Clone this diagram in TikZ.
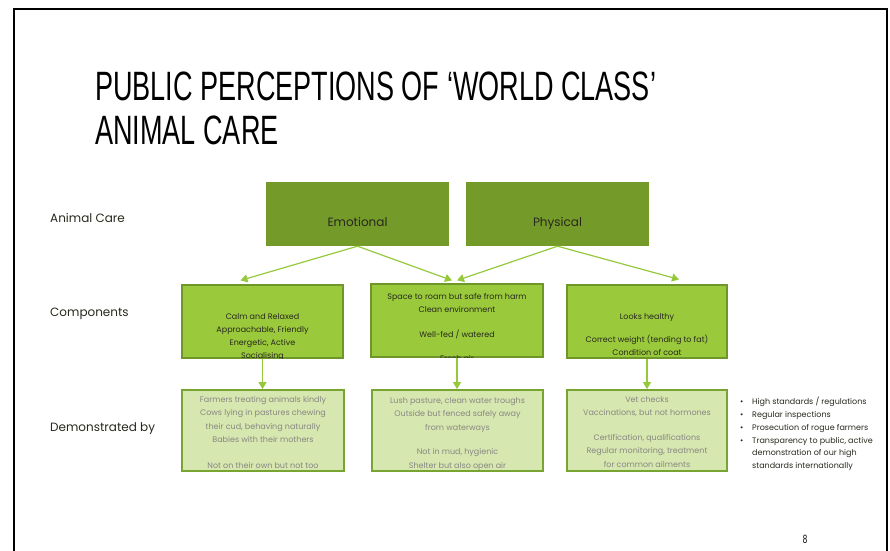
\documentclass[tikz,border=0pt]{standalone}
\usepackage{fontspec}
\setmainfont{Poppins}
\newfontfamily\narrowfont[FakeStretch=0.66]{Liberation Sans}
\usetikzlibrary{arrows.meta, calc}

\definecolor{caredark}{RGB}{116,154,42}
\definecolor{compfill}{RGB}{154,202,60}
\definecolor{compline}{RGB}{110,150,40}
\definecolor{demofill}{RGB}{215,231,176}
\definecolor{demoline}{RGB}{120,165,50}
\definecolor{arrowgreen}{RGB}{150,200,60}
\definecolor{textdark}{RGB}{40,40,30}
\definecolor{textgray}{RGB}{135,135,130}

\begin{document}
\begin{tikzpicture}[
  x=1pt, y=-1pt,
  carebox/.style={fill=caredark, minimum width=183pt, minimum height=64pt, inner sep=0pt,
    text=textdark, font=\fontsize{12}{14}\selectfont, text height=24pt, text depth=0pt},
  compbox/.style={draw=compline, line width=1.2pt, fill=compfill, minimum height=73pt, inner sep=0pt},
  demobox/.style={draw=demoline, line width=1.8pt, fill=demofill, minimum height=81pt, inner sep=0pt},
  comptext/.style={anchor=north, align=center, inner sep=0pt, text=textdark, font=\fontsize{8}{13}\selectfont},
  demotext/.style={anchor=north, align=center, inner sep=0pt, text=textgray, font=\fontsize{8}{13.5}\selectfont},
  rowlabel/.style={anchor=west, inner sep=0pt, text=textdark, font=\fontsize{12}{14}\selectfont},
  arrow/.style={-{Triangle[length=7pt, width=8pt]}, line width=1.2pt, draw=arrowgreen}
]
\useasboundingbox (0,0) rectangle (890,550);

% slide frame and title
\draw[line width=2pt] (14,551) -- (14,9) -- (887,9) -- (887,551);
\node[anchor=north west, align=left, inner sep=0pt, font=\narrowfont\fontsize{41}{44}\selectfont] (title) at (95,72)
  {PUBLIC PERCEPTIONS OF ‘WORLD CLASS’\\ANIMAL CARE};
\node[font=\narrowfont\fontsize{12}{14}\selectfont] (pagenum) at (805,539) {8};

% row labels
\node[rowlabel] (lcare) at (50,218) {Animal Care};
\node[rowlabel] (lcomp) at (50,314) {Components};
\node[rowlabel] (ldemo) at (50,429) {Demonstrated by};

% animal care
\node[carebox] (emo) at (357.5,214) {Emotional};
\node[carebox] (phy) at (557.5,214) {Physical};

% components
\node[compbox, minimum width=161pt] (c1) at (262.5,321.5) {};
\node[compbox, minimum width=172pt] (c2) at (457,320.5) {};
\node[compbox, minimum width=160pt] (c3) at (647,321.5) {};

\begin{scope}
  \clip (c1.south west) rectangle (c1.north east);
  \node[comptext] (c1txt) at ($(c1.north)+(0,29)$)
    {Calm and Relaxed\\Approachable, Friendly\\Energetic, Active\\Socialising};
\end{scope}
\begin{scope}
  \clip (c2.south west) rectangle (c2.north east);
  \node[comptext] (c2txt) at ($(c2.north)+(0,10)$)
    {Space to roam but safe from harm\\Clean environment\\[12pt]Well-fed / watered\\[11pt]Fresh air};
\end{scope}
\node[comptext] (c3txt) at ($(c3.north)+(0,29)$)
  {Looks healthy\\[10pt]Correct weight (tending to fat)\\Condition of coat};

% demonstrated by
\node[demobox, minimum width=162pt] (d1) at (263,430.5) {};
\node[demobox, minimum width=171pt] (d2) at (457.5,430.5) {};
\node[demobox, minimum width=160pt] (d3) at (647,430.5) {};

\node[demotext] (d1txt) at ($(d1.north)+(0,7)$)
  {Farmers treating animals kindly\\Cows lying in pastures chewing\\their cud, behaving naturally\\Babies with their mothers\\[12pt]Not on their own but not too};
\node[demotext] (d2txt) at ($(d2.north)+(0,8)$)
  {Lush pasture, clean water troughs\\Outside but fenced safely away\\from waterways\\[11pt]Not in mud, hygienic\\Shelter but also open air};
\node[demotext] (d3txt) at ($(d3.north)+(0,7)$)
  {Vet checks\\Vaccinations, but not hormones\\[11pt]Certification, qualifications\\Regular monitoring, treatment\\for common ailments};

% standards list
\node[anchor=north west, align=left, inner sep=0pt, text=textdark, font=\fontsize{8}{12.8}\selectfont] (stds) at (740,397)
  {\makebox[12pt][l]{\textbullet}High standards / regulations\\
   \makebox[12pt][l]{\textbullet}Regular inspections\\
   \makebox[12pt][l]{\textbullet}Prosecution of rogue farmers\\
   \makebox[12pt][l]{\textbullet}Transparency to public, active\\
   \makebox[12pt][l]{}demonstration of our high\\
   \makebox[12pt][l]{}standards internationally};

% connectors
\draw[arrow] (emo.south) -- ($(c1.north)+(-22,-4)$);
\draw[arrow] (emo.south) -- ($(c2.north)+(-5,-3)$);
\draw[arrow] (phy.south) -- ($(c2.north)+(0,-3)$);
\draw[arrow] (phy.south) -- ($(c3.north)+(32,-5)$);
\draw[arrow] (c1.south) -- (c1.south |- d1.north);
\draw[arrow] (c2.south) -- (c2.south |- d2.north);
\draw[arrow] (c3.south) -- (c3.south |- d3.north);
\end{tikzpicture}
\end{document}
